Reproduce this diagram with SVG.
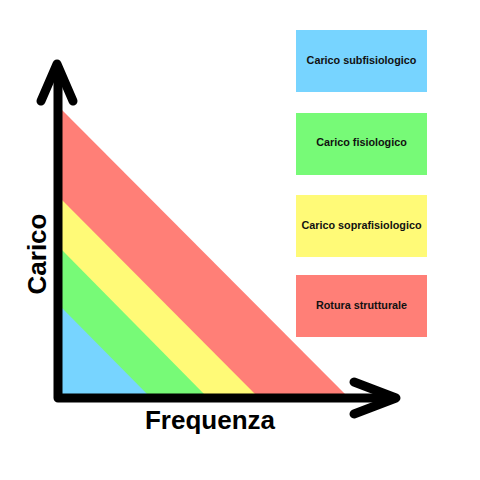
<svg xmlns="http://www.w3.org/2000/svg" width="480" height="480" viewBox="0 0 480 480">
<style>
.ax{fill:none;stroke:#000;stroke-width:9;stroke-linecap:round;stroke-linejoin:round}
.lbl{font-family:"Liberation Sans",Arial,sans-serif;font-weight:bold;font-size:10.8px;fill:#111;text-anchor:middle;dominant-baseline:central}
.axl{font-family:"Liberation Sans",Arial,sans-serif;font-weight:bold;font-size:26px;fill:#000;text-anchor:middle}
</style>
<rect width="480" height="480" fill="#fff"/>
<g id="bands">
<polygon points="62,110 62,397 348,397" fill="#ff7f77"/>
<polygon points="62,200 62,397 258,397" fill="#fffa77"/>
<polygon points="62,250 62,397 207,397" fill="#77fa77"/>
<polygon points="62,308 62,397 150,397" fill="#77d4ff"/>
</g>
<g id="axes">
<path class="ax" d="M58,68 V398 H394"/>
<path class="ax" d="M41,101 L57,64 L73,101"/>
<path class="ax" d="M354,382 L396,398 L354,414"/>
</g>
<text class="axl" transform="translate(46,254) rotate(-90)">Carico</text>
<text class="axl" x="210" y="429">Frequenza</text>
<g id="legend-sub"><rect x="296" y="30" width="131" height="62" fill="#77d4ff"/><text class="lbl" x="361.5" y="60">Carico subfisiologico</text></g>
<g id="legend-fis"><rect x="296" y="113" width="131" height="62" fill="#77fa77"/><text class="lbl" x="361.5" y="142">Carico fisiologico</text></g>
<g id="legend-sopra"><rect x="296" y="195" width="131" height="62" fill="#fffa77"/><text class="lbl" x="361.5" y="225">Carico soprafisiologico</text></g>
<g id="legend-rot"><rect x="296" y="275" width="131" height="62" fill="#ff7f77"/><text class="lbl" x="361.5" y="305">Rotura strutturale</text></g>
</svg>
